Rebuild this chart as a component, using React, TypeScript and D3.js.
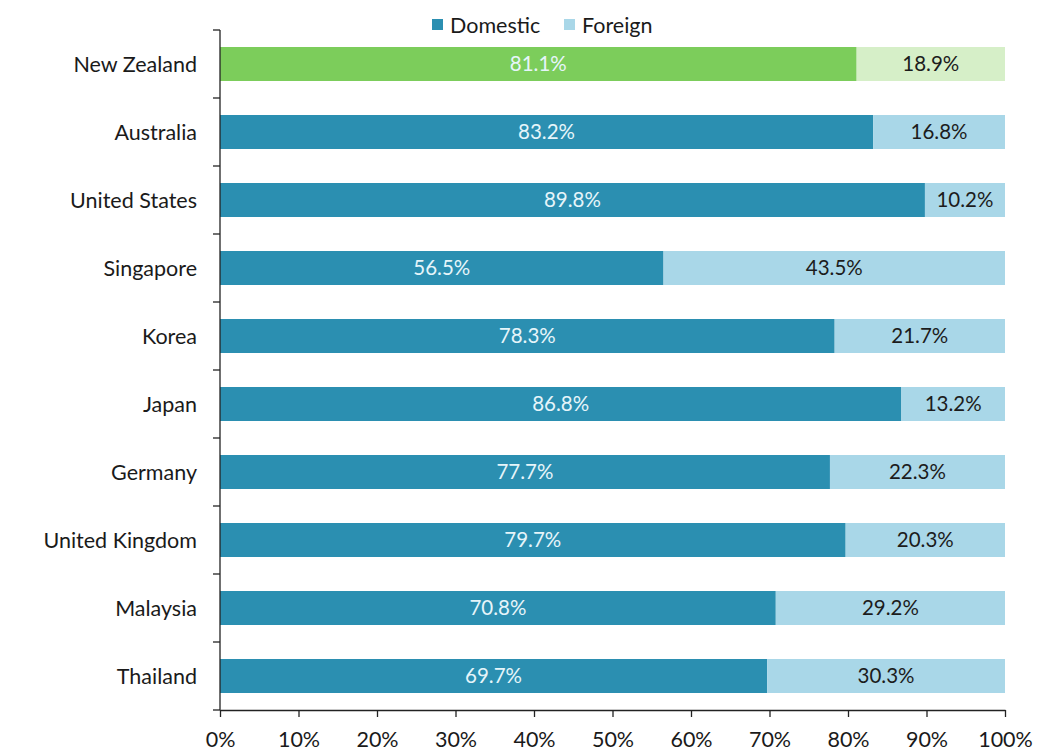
import React, { useEffect, useRef } from "react";
import * as d3 from "d3";

const countries = [
  "New Zealand",
  "Australia",
  "United States",
  "Singapore",
  "Korea",
  "Japan",
  "Germany",
  "United Kingdom",
  "Malaysia",
  "Thailand",
];
const domestic = [81.1, 83.2, 89.8, 56.5, 78.3, 86.8, 77.7, 79.7, 70.8, 69.7];
const foreign = [18.9, 16.8, 10.2, 43.5, 21.7, 13.2, 22.3, 20.3, 29.2, 30.3];
const seriesNames = ["Domestic", "Foreign"];
const xTicks = [0, 10, 20, 30, 40, 50, 60, 70, 80, 90, 100];

const FONT = "Lato, 'Open Sans', sans-serif";

export default function App() {
  const ref = useRef<SVGSVGElement>(null);

  useEffect(() => {
    document.body.style.margin = "0";
    document.body.style.overflow = "hidden";

    const svg = d3.select(ref.current);
    svg.selectAll("*").remove();

    const W = 1060;
    const H = 754;
    const margin = { top: 30, right: 55, bottom: 44, left: 220 };

    const x = d3.scaleLinear().domain([0, 100]).range([margin.left, W - margin.right]);
    const y = d3
      .scaleBand()
      .domain(countries)
      .range([margin.top, H - margin.bottom])
      .paddingInner(0.5)
      .paddingOuter(0.25);

    const colors = {
      dom: "#2b8fb1",
      for: "#a9d7e8",
      domNZ: "#7ccd5b",
      forNZ: "#d6efc8",
    };

    svg.append("rect").attr("width", W).attr("height", H).attr("fill", "#fff");

    const rows = countries.map((c, i) => ({ c, d: domestic[i], f: foreign[i] }));

    const g = svg.append("g");
    // domestic part
    g.selectAll(".dom")
      .data(rows)
      .join("rect")
      .attr("x", x(0))
      .attr("y", (d) => y(d.c)!)
      .attr("width", (d) => x(d.d) - x(0))
      .attr("height", y.bandwidth())
      .attr("fill", (d) => (d.c === "New Zealand" ? colors.domNZ : colors.dom));
    // foreign part
    g.selectAll(".for")
      .data(rows)
      .join("rect")
      .attr("x", (d) => x(d.d))
      .attr("y", (d) => y(d.c)!)
      .attr("width", (d) => x(d.d + d.f) - x(d.d))
      .attr("height", y.bandwidth())
      .attr("fill", (d) => (d.c === "New Zealand" ? colors.forNZ : colors.for));

    // value labels
    g.selectAll(".dl")
      .data(rows)
      .join("text")
      .attr("x", (d) => (x(0) + x(d.d)) / 2)
      .attr("y", (d) => y(d.c)! + y.bandwidth() / 2)
      .attr("dy", "0.35em")
      .attr("text-anchor", "middle")
      .attr("font-family", FONT)
      .attr("font-size", 20.5)
      .attr("fill", "#e6f5fa")
      .text((d) => d.d.toFixed(1) + "%");
    g.selectAll(".fl")
      .data(rows)
      .join("text")
      .attr("x", (d) => (x(d.d) + x(d.d + d.f)) / 2)
      .attr("y", (d) => y(d.c)! + y.bandwidth() / 2)
      .attr("dy", "0.35em")
      .attr("text-anchor", "middle")
      .attr("font-family", FONT)
      .attr("font-size", 20.5)
      .attr("fill", "#1c1c1c")
      .text((d) => d.f.toFixed(1) + "%");

    // y axis: line + ticks between bands
    const yb = countries.map((c) => y(c)! - y.step() * 0.25);
    yb.push(H - margin.bottom);
    const yAxis = svg.append("g").attr("stroke", "#222").attr("stroke-width", 1.3);
    yAxis
      .append("line")
      .attr("x1", x(0))
      .attr("x2", x(0))
      .attr("y1", margin.top)
      .attr("y2", H - margin.bottom);
    yAxis
      .selectAll(".yt")
      .data(yb)
      .join("line")
      .attr("x1", x(0) - 7)
      .attr("x2", x(0))
      .attr("y1", (d) => d)
      .attr("y2", (d) => d);

    svg
      .append("g")
      .selectAll("text")
      .data(countries)
      .join("text")
      .attr("x", 197)
      .attr("y", (d) => y(d)! + y.bandwidth() / 2)
      .attr("dy", "0.35em")
      .attr("text-anchor", "end")
      .attr("font-family", FONT)
      .attr("font-size", 21.5)
      .attr("fill", "#1a1a1a")
      .text((d) => d);

    // x axis
    const xAxis = svg
      .append("g")
      .attr("transform", `translate(0,${H - margin.bottom})`)
      .call(
        d3
          .axisBottom(x)
          .tickValues(xTicks)
          .tickSize(7)
          .tickSizeOuter(0)
          .tickPadding(15)
          .tickFormat((d) => d + "%")
      );
    xAxis.selectAll(".domain, .tick line").attr("stroke", "#222").attr("stroke-width", 1.3);
    xAxis
      .selectAll("text")
      .attr("font-family", FONT)
      .attr("font-size", 21.5)
      .attr("fill", "#1a1a1a");

    // legend
    const legend = svg.append("g").attr("transform", "translate(432,25)");
    const lx = [0, 132];
    const lc = [colors.dom, colors.for];
    seriesNames.forEach((s, i) => {
      legend
        .append("rect")
        .attr("x", lx[i])
        .attr("y", -6)
        .attr("width", 11)
        .attr("height", 11)
        .attr("fill", lc[i]);
      legend
        .append("text")
        .attr("x", lx[i] + 18)
        .attr("y", 0)
        .attr("dy", "0.35em")
        .attr("font-family", FONT)
        .attr("font-size", 21.5)
        .attr("fill", "#1a1a1a")
        .text(s);
    });
  }, []);

  return <svg ref={ref} width={1060} height={754} style={{ display: "block" }} />;
}
